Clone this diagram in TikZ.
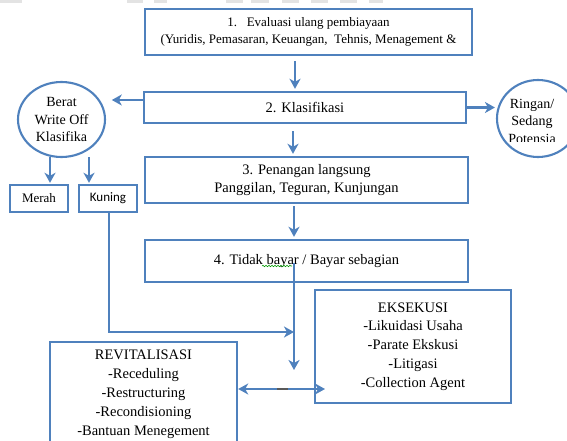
\documentclass[tikz,border=0pt]{standalone}
\usepackage{fontspec}
\setmainfont{Liberation Serif}
\newfontfamily\calfont{Carlito}
\usetikzlibrary{arrows.meta,shapes.geometric,decorations.pathmorphing}
\definecolor{ob}{HTML}{4F81BD}
\begin{document}
\begin{tikzpicture}[x=1pt,y=-1pt,
  box/.style={draw=ob,line width=2.4pt,inner sep=0pt,align=center,font=\fontsize{14.5}{18}\selectfont},
  oval/.style={draw=ob,line width=2.1pt,ellipse,inner sep=0pt,align=center,font=\fontsize{14}{17.5}\selectfont},
  tip/.style={Stealth[length=10pt,width=11pt,inset=3pt]},
  arr/.style={draw=ob,line width=2.5pt,-{Stealth[length=10pt,width=11pt,inset=3pt]}},
  dbl/.style={draw=ob,line width=2.5pt,{Stealth[length=10pt,width=11pt,inset=3pt]}-{Stealth[length=10pt,width=11pt,inset=3pt]}}]
\clip (0,0) rectangle (567,441);
\fill[white] (0,0) rectangle (567,441);
% faint top bars
\foreach \a/\b in {0/22,127/143,154/167,226/243,251/269,282/299,311/328,340/357,369/383}
  \fill[gray!22] (\a,0) rectangle (\b,3);
% boxes
\node[box,minimum width=327pt,minimum height=46pt,font=\fontsize{13}{17}\selectfont] (b1) at (308.5,32)
  {1.\ \ \ Evaluasi ulang pembiayaan\\(Yuridis, Pemasaran, Keuangan,\ \ Tehnis, Menagement \&};
\node[box,minimum width=322pt,minimum height=31pt] (b2) at (305,107.5) {2. Klasifikasi};
\node[box,minimum width=323pt,minimum height=46pt] (b3) at (306.5,180) {3. Penangan langsung\\Panggilan, Teguran, Kunjungan};
\node[box,minimum width=323pt,minimum height=42pt] (b4) at (306.5,261) {4. Tidak bayar / Bayar sebagian};
\node[box,minimum width=58pt,minimum height=27pt,font=\fontsize{13}{16}\selectfont] (merah) at (39,198.5) {Merah};
\node[box,minimum width=58pt,minimum height=27pt,font=\calfont\fontsize{13}{16}\selectfont] (kuning) at (108,198.5) {Kuning};
\node[box,minimum width=196pt,minimum height=113pt,font=\fontsize{14.5}{18.75}\selectfont] (eks) at (413,346.5)
  {EKSEKUSI\\-Likuidasi Usaha\\-Parate Ekskusi\\-Litigasi\\-Collection Agent};
\node[box,minimum width=187pt,minimum height=104pt,font=\fontsize{14.5}{19}\selectfont] (rev) at (143.5,394)
  {REVITALISASI\\-Receduling\\-Restructuring\\-Recondisioning\\-Bantuan Menegement};
% ovals
\node[oval,minimum width=87pt,minimum height=75pt] (lc) at (61.5,119.5) {Berat\\Write Off\\Klasifika};
\node[oval,minimum width=82pt,minimum height=77pt] (rc) at (538,118.5) {};
\begin{scope}
\clip (495,80) rectangle (567,141);
\node[align=center,inner sep=0pt,font=\fontsize{14}{17.5}\selectfont] (rct) at (532,121) {Ringan/\\Sedang\\Potensia};
\end{scope}
% connectors
\coordinate (x1) at (295,0);
\draw[arr,shorten <=5pt,shorten >=2pt] (b1.south -| x1) -- (b2.north -| x1);
\coordinate (x2) at (293,0);
\draw[arr,shorten <=7pt,shorten >=2pt] (b2.south -| x2) -- (b3.north -| x2);
\coordinate (x3) at (294,0);
\draw[arr,shorten <=2pt,shorten >=2pt] (b3.south -| x3) -- (b4.north -| x3);
\draw[arr] ([yshift=7.5pt]b2.west) -- ++(-31,0);
\draw[arr,shorten >=1pt] (b2.east) -- (b2.east -| rc.west);
\coordinate (m1) at (50,157);
\coordinate (k1) at (89,157);
\draw[arr,shorten >=1pt] (m1) -- (m1 |- merah.north);
\draw[arr,shorten >=1pt] (k1) -- (k1 |- kuning.north);
\coordinate (v0) at (294,263);
\coordinate (v1) at (294,370);
\draw[arr] (v0) -- (v1);
\coordinate (j) at (294,332);
\draw[arr] ([xshift=1pt]kuning.south) |- (j);
\coordinate (h) at (0,389);
\coordinate (h2) at (325,389);
\draw[dbl] (rev.east |- h) -- (h2);
\draw[line width=2.5pt,color=gray!70!black] (277,389) -- (288,389);
% spell-check squiggle
\draw[green!60!black,line width=0.6pt,decorate,decoration={snake,amplitude=0.7pt,segment length=3pt}] (262,266) -- (292,266);
\end{tikzpicture}
\end{document}
